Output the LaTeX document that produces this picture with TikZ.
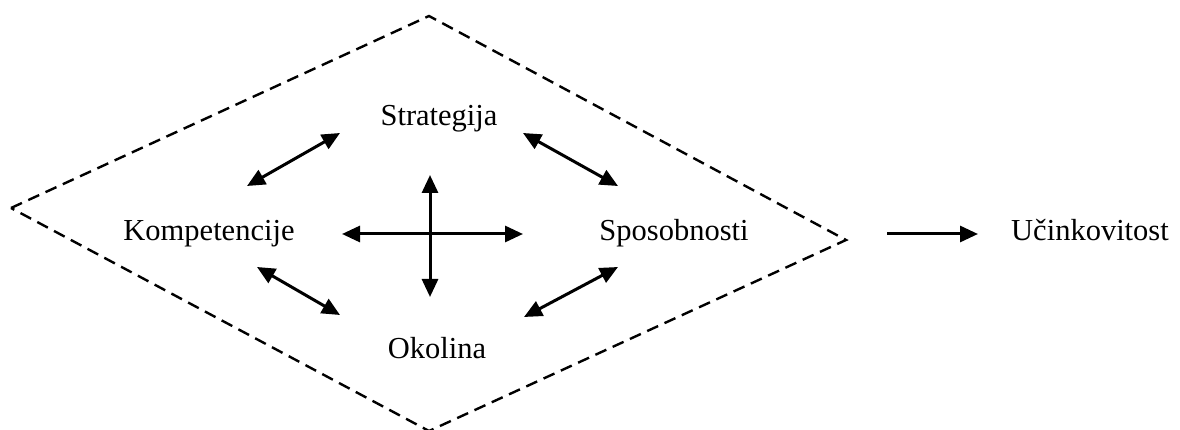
\documentclass[tikz,border=0pt]{standalone}
\usepackage{fontspec}
\setmainfont{Liberation Serif}
\usetikzlibrary{arrows.meta}
\begin{document}
\begin{tikzpicture}[x=1pt,y=-1pt,
  label/.style={font=\fontsize{30.5}{36}\selectfont, inner sep=0pt, anchor=base},
  frame/.style={dashed, dash pattern=on 12pt off 7pt, line width=2.4pt},
  link/.style={line width=3pt, {Triangle[length=18pt,width=16pt]}-{Triangle[length=18pt,width=16pt]}},
  outlink/.style={line width=3pt, -{Triangle[length=18pt,width=16pt]}}]
  \useasboundingbox (0,0) rectangle (1180,430);

  % outer dashed rhombus
  \coordinate (L) at (11,208);
  \coordinate (T) at (429,16);
  \coordinate (R) at (846,240);
  \coordinate (B) at (429,431);
  \draw[frame] (L) -- (T) -- (R) -- (B) -- cycle;

  % labels
  \node[label] (str) at (439,126) {Strategija};
  \node[label] (kom) at (209,241) {Kompetencije};
  \node[label] (spo) at (674,241) {Sposobnosti};
  \node[label] (oko) at (437,358) {Okolina};
  \node[label] (uci) at (1090,241) {Učinkovitost};

  % arrow end points
  \coordinate (ks1) at (247,186); \coordinate (ks2) at (340,133);
  \coordinate (ss1) at (523,133); \coordinate (ss2) at (618,186);
  \coordinate (ko1) at (257,267); \coordinate (ko2) at (340,315);
  \coordinate (os1) at (524,317); \coordinate (os2) at (618,267);
  \coordinate (h1) at (342,234);  \coordinate (h2) at (523,234);
  \coordinate (v1) at (430,175);  \coordinate (v2) at (430,297);
  \coordinate (u1) at (887,234);  \coordinate (u2) at (978,234);

  \draw[link] (ks1) -- (ks2);
  \draw[link] (ss1) -- (ss2);
  \draw[link] (ko1) -- (ko2);
  \draw[link] (os1) -- (os2);
  \draw[link] (h1) -- (h2);
  \draw[link] (v1) -- (v2);
  \draw[outlink] (u1) -- (u2);
\end{tikzpicture}
\end{document}
